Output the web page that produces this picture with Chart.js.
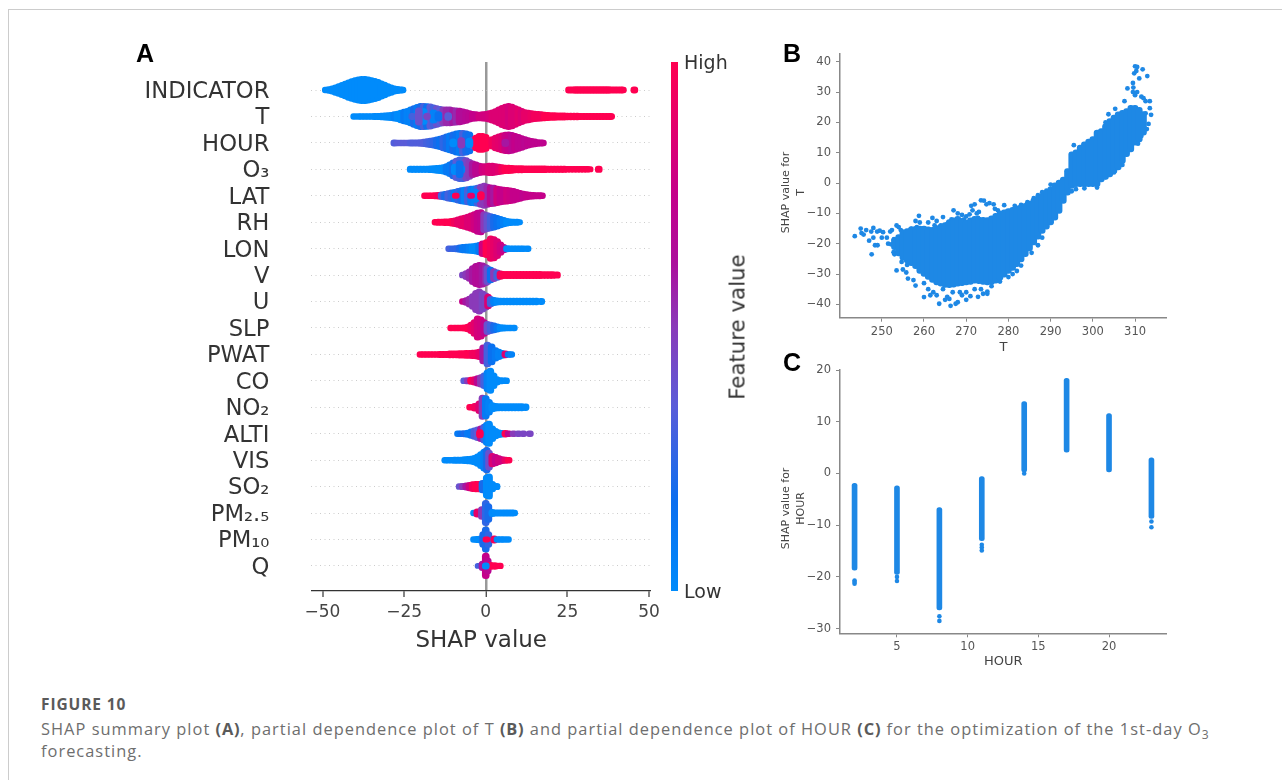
<!DOCTYPE html>
<html>
<head>
<meta charset="utf-8">
<title>SHAP summary</title>
<script src="https://cdn.jsdelivr.net/npm/chart.js@4"></script>
<style>
  html, body { margin: 0; padding: 0; background: #fff; }
  body { width: 1282px; height: 780px; position: relative; overflow: hidden; font-family: "DejaVu Sans", sans-serif; }
  #frame { position: absolute; left: 8px; top: 9px; width: 1300px; height: 800px; border: 1px solid #ccc; box-sizing: border-box; }
  canvas { position: absolute; }
  .letter { position: absolute; font: bold 25px "Liberation Sans", sans-serif; color: #000; line-height: 25px; }
  #featureLabel { position: absolute; left: 737px; top: 327px; font-size: 21.3px; color: #333; transform: translate(-50%, -50%) rotate(-90deg); white-space: nowrap; }
  #caption { position: absolute; left: 41px; top: 693px; width: 1200px; font-family: "Open Sans", sans-serif; color: #6e6e6e; font-size: 16.4px; letter-spacing: 1.02px; line-height: 22px; }
  #caption .fig { font-weight: 700; font-size: 15.5px; letter-spacing: .9px; color: #5a5a5a; margin-bottom: 3px; }
  #caption b { font-weight: 700; color: #5a5a5a; letter-spacing: .8px; }
  #caption sub { font-size: 12px; line-height: 0; }
</style>
</head>
<body>
<div id="frame"></div>
<canvas id="summaryChart" style="left:130px;top:50px" width="536" height="605"></canvas>
<canvas id="colorbarChart" style="left:665px;top:45px" width="73" height="565"></canvas>
<canvas id="tempChart" style="left:775px;top:45px" width="400" height="310"></canvas>
<canvas id="hourChart" style="left:775px;top:360px" width="400" height="309"></canvas>
<div class="letter" style="left:136px;top:41px">A</div>
<div class="letter" style="left:783px;top:41px">B</div>
<div class="letter" style="left:783px;top:350px">C</div>
<div id="featureLabel">Feature value</div>
<div id="caption">
  <div class="fig">FIGURE 10</div>
  SHAP summary plot <b>(A)</b>, partial dependence plot of T <b>(B)</b> and partial dependence plot of HOUR <b>(C)</b> for the optimization of the 1st-day O<sub>3</sub> forecasting.
</div>

<script>
const features = ["INDICATOR", "T", "HOUR", "O₃", "LAT", "RH", "LON", "V", "U", "SLP", "PWAT", "CO", "NO₂", "ALTI", "VIS", "SO₂", "PM₂.₅", "PM₁₀", "Q"];
const shapTicks = [-50, -25, 0, 25, 50];

// each swarm: [shap value, spread across the row, feature value 0..1]
const swarmIndicator = [[-49,.11,0],[-48,.13,0],[-47,.16,0],[-46,.2,0],[-45,.24,0],[-44,.29,0],[-43,.34,0],[-42,.39,0],[-41,.43,0],[-40,.47,0],[-39,.5,0],[-38,.52,0],[-37,.52,0],[-36,.5,0],[-35,.47,0],[-34,.44,0],[-33,.4,0],[-32,.35,0],[-31,.3,0],[-30,.24,0],[-29,.2,0],[-28,.16,0],[-27,.14,0],[-26,.12,0],[-25.5,.11,0],
  [25.5,.12,1],[26.5,.12,1],[27.5,.13,1],[28.5,.13,1],[29.5,.13,1],[30.5,.13,1],[31.5,.13,1],[32.5,.13,1],[33.5,.13,1],[34.5,.13,1],[35.5,.13,1],[36.5,.13,1],[37.5,.13,1],[38.5,.12,1],[39.5,.12,1],[40.5,.12,1],[41.5,.12,1],[42,.11,1],[45.5,.12,1]];
const swarmT = [[-40.3,.11,0],[-39,.11,0],[-38,.11,0],[-37,.11,0],[-36,.11,0],[-35,.11,0],[-34,.12,0],[-33,.12,0],[-32,.13,0],[-31,.14,0],[-30,.15,0],[-29,.16,0],[-28,.18,.05],[-27,.2,0],[-26,.24,0],[-25,.28,.1],[-24,.31,.05],[-23,.36,.05],[-22,.41,.2],[-21,.46,.1],[-20,.5,.2],[-19,.5,.3],[-18,.49,.15],[-17,.48,.35],[-16,.44,.3],[-15,.41,.4],[-14,.38,.35],[-13,.36,.5],[-12,.36,.55],[-11,.36,.55],[-10,.34,.6],[-9,.33,.55],[-8,.32,.65],[-7,.29,.65],[-6,.26,.68],[-5,.22,.7],[-4,.19,.75],[-3,.18,.75],[-2,.17,.8],[-1,.18,.8],[0,.19,.8],[1,.22,.82],[2,.25,.85],[3,.3,.85],[4,.36,.85],[5,.42,.85],[6,.47,.85],[7,.5,.82],[8,.47,.85],[9,.41,.85],[10,.36,.88],[11,.31,.85],[12,.26,.9],[13,.24,.9],[14,.22,.92],[15,.2,.95],[16,.19,.95],[17,.18,.95],[18,.17,1],[19,.16,1],[20,.15,1],[21,.15,1],[22,.14,1],[23,.14,1],[24,.14,1],[25,.13,1],[26,.13,1],[27,.13,1],[28,.13,1],[29,.12,1],[30,.12,1],[31,.12,1],[32,.12,1],[33,.12,1],[34,.12,1],[35,.12,1],[36,.12,1],[37,.12,1],[38,.12,1],[38.4,.11,1],
  [-21,.2,.05],[-19,.3,0],[-22.5,.12,.3],[-17.5,.15,.35],[-16,.25,.05],[-20.5,.33,.4],[-14.5,.18,.15],[-18,.12,.45],[-11.5,.15,.35]];
const swarmHour = [[-28,.12,.33],[-27,.11,.35],[-26,.11,.35],[-25,.11,.35],[-24,.11,.35],[-23,.12,.33],[-22,.12,.33],[-21,.12,.33],[-20,.13,.33],[-19,.14,.33],[-18,.16,.3],[-17,.18,.28],[-16,.2,.25],[-15,.23,.2],[-14,.26,.15],[-13,.3,.25],[-12,.34,.2],[-11,.38,.1],[-10,.42,.2],[-9,.46,.15],[-8,.48,.1],[-7,.48,.3],[-6,.46,.2],[-5,.42,.15],
  [-4,.22,.35],[-3,.3,1],[-2,.36,1],[-1,.36,1],[0,.32,1],[1,.2,1],[2,.24,.95],[3,.3,.9],[4,.34,.88],[5,.38,.85],[6,.41,.78],[7,.42,.75],[8,.4,.7],[9,.36,.75],[10,.32,.72],[11,.28,.72],[12,.24,.7],[13,.2,.72],[14,.17,.72],[15,.15,.72],[16,.13,.72],[17,.12,.72],[17.5,.11,.72],
  [-7.5,.2,.5],[-10,.15,0],[-5,.18,.0],[6,.14,.6]];
const swarmO3 = [[-23,.12,0],[-22,.12,0],[-21,.12,0],[-20,.12,0],[-19,.12,0],[-18,.12,0],[-17,.13,0],[-16,.14,0],[-15,.15,0],[-14,.16,0],[-13,.18,0],[-12,.22,.1],[-11,.28,.1],[-10,.36,.2],[-9,.43,.35],[-8,.47,.3],[-7,.47,.3],[-6,.44,.45],[-5,.38,.5],[-4,.32,.6],[-3,.28,.7],[-2,.24,.7],[-1,.22,.8],[0,.22,.82],[1,.24,.85],[2,.24,.85],[3,.22,.85],[4,.2,.88],[5,.18,.95],[6,.16,1],[7,.16,1],[8,.15,1],[9,.14,1],[10,.14,1],[11,.14,1],[12,.13,1],[13,.13,1],[14,.13,1],[15,.13,1],[16,.13,1],[17,.13,1],[18,.13,1],[19,.12,1],[20,.12,1],[21,.12,1],[22,.12,1],[23,.12,1],[24,.12,1],[25,.11,1],[26,.11,1],[27,.11,1],[28,.11,1],[29,.11,1],[30,.11,1],[31,.11,1],[31.8,.1,1],[34.6,.12,1],
  [-9.5,.2,0],[-7.5,.15,.05],[-8,.32,.15]];
const swarmLat = [[-18.6,.11,1],[-17.5,.11,1],[-16.5,.11,1],[-15.5,.12,1],[-14.5,.13,.95],[-13.5,.15,.3],[-12.5,.17,.2],[-11.5,.2,.3],[-10.5,.22,.25],[-9.5,.24,.1],[-8.5,.28,.25],[-7.5,.31,.2],[-6.5,.33,.05],[-5.5,.35,.3],[-4.5,.37,.1],[-3.5,.38,.05],[-2.5,.4,.3],[-1.5,.44,.5],[-.5,.48,.5],[.5,.44,.55],[1.5,.41,.7],[2.5,.4,.6],[3.5,.37,.8],[4.5,.35,.75],[5.5,.33,.75],[6.5,.32,.8],[7.5,.3,.78],[8.5,.28,.75],[9.5,.24,.75],[10.5,.21,.75],[11.5,.18,.72],[12.5,.16,.75],[13.5,.14,.75],[14.5,.13,.75],[15.5,.12,.75],[16.5,.12,.75],[17.2,.11,.75],
  [-3,.12,1],[-9.2,.1,1],[-3.2,.25,.05],[-1.5,.16,1],[-4.5,.1,.9]];
const swarmRh = [[-15.4,.11,1],[-14.5,.12,1],[-13.5,.12,1],[-12.5,.13,1],[-11.5,.13,1],[-10.5,.15,1],[-9.5,.17,.95],[-8.5,.2,.9],[-7.5,.24,.9],[-6.5,.27,.9],[-5.5,.31,.85],[-4.5,.35,.85],[-3.5,.4,.8],[-2.5,.46,.75],[-1.5,.48,.72],[-.5,.4,.5],[.5,.36,.4],[1.5,.33,.3],[2.5,.3,.2],[3.5,.26,.15],[4.5,.22,.1],[5.5,.18,.05],[6.5,.15,0],[7.5,.13,0],[8.5,.12,0],[9.5,.12,0],[10.2,.1,0]];
const swarmLon = [[-11.2,.11,.3],[-10,.11,.25],[-9,.12,.25],[-8,.14,.2],[-7,.16,.1],[-6,.17,.1],[-5,.18,.05],[-4,.19,0],[-3,.21,0],[-2,.24,.1],[-1,.3,.8],[.2,.34,1],[1.5,.48,.95],[2.5,.46,.9],[3.5,.38,.85],[4.5,.26,.8],[5.5,.16,.7],[6.5,.12,0],[7.5,.11,0],[8.5,.11,0],[9.5,.11,0],[10.5,.11,0],[11.5,.11,0],[12.8,.11,0]];
const swarmV = [[-7,.11,.45],[-6,.17,.5],[-5,.24,.55],[-4,.36,.6],[-3,.44,.65],[-2,.48,.65],[-1,.46,.6],[0,.4,.55],[.5,.36,.4],[1.5,.3,.15],[2.5,.25,.5],[3.5,.2,.3],[4.5,.16,.95],[5.5,.14,1],[6.5,.14,1],[7.5,.14,1],[8.5,.14,1],[9.5,.14,1],[10.5,.14,1],[11.5,.14,1],[12.5,.14,1],[13.5,.14,1],[14.5,.14,1],[15.5,.14,1],[16.5,.14,1],[17.5,.13,1],[18.5,.13,1],[19.5,.13,1],[20.5,.13,1],[21.8,.12,1]];
const swarmU = [[-7,.11,.75],[-6,.15,.6],[-5,.21,.55],[-4,.3,.5],[-3,.42,.5],[-2,.48,.5],[-1,.4,.45],[0,.33,.45],[.7,.28,.85],[1.5,.2,.3],[2.5,.16,.05],[3.5,.14,0],[4.5,.13,0],[5.5,.13,0],[6.5,.13,0],[7.5,.13,0],[8.5,.13,0],[9.5,.13,0],[10.5,.13,0],[11.5,.13,0],[12.5,.13,0],[13.5,.13,0],[14.5,.13,0],[15.5,.13,0],[17,.12,0]];
const swarmSlp = [[-10.6,.11,1],[-9.5,.11,1],[-8.5,.11,1],[-7.5,.11,1],[-6.5,.12,1],[-5.5,.15,1],[-4.5,.22,.95],[-3.5,.32,.88],[-2.5,.46,.82],[-1.5,.42,.8],[-.5,.32,.72],[.5,.25,.4],[1.5,.22,.3],[2.5,.19,.2],[3.5,.16,.1],[4.5,.13,0],[5.5,.12,0],[6.5,.11,0],[7.5,.11,0],[8.6,.11,0]];
const swarmPwat = [[-20,.11,1],[-19,.11,1],[-18,.11,1],[-17,.11,1],[-16,.11,1],[-15,.11,1],[-14,.12,1],[-13,.12,1],[-12,.12,1],[-11,.13,1],[-10,.13,1],[-9,.13,1],[-8,.14,1],[-7,.14,1],[-6,.15,1],[-5,.15,1],[-4,.16,.95],[-3,.17,.95],[-2,.2,.9],[-.8,.36,.6],[.5,.47,.3],[1.8,.4,.15],[3,.26,.1],[4,.2,.05],[5,.15,.05],[6,.13,.85],[7,.11,.1],[7.8,.11,.05]];
const swarmCo = [[-6.6,.11,.35],[-5.5,.12,.5],[-4.5,.14,1],[-3.5,.16,.9],[-2.5,.2,.7],[-1.5,.24,.5],[-.5,.3,.3],[.5,.42,.05],[1.4,.48,0],[2.4,.3,0],[3.4,.16,0],[4.5,.12,0],[5.5,.11,0],[6.2,.11,0]];
const swarmNo2 = [[-4.8,.11,1],[-3.4,.15,.95],[-2,.24,.85],[-1,.46,.5],[0,.44,.1],[1,.3,.05],[2,.18,0],[3,.15,0],[4,.14,0],[5,.14,0],[6,.14,0],[7,.14,0],[8,.14,0],[9,.14,0],[10,.14,0],[11,.14,0],[12.2,.13,0]];
const swarmAlti = [[-8.5,.11,.1],[-7.5,.11,.15],[-6.5,.12,.2],[-5.5,.14,.1],[-4.5,.18,.1],[-3.5,.22,.3],[-2.5,.26,.35],[-1.5,.3,.6],[-.5,.36,.3],[.3,.44,.05],[1,.48,0],[2,.3,.0],[3,.2,0],[4,.15,0],[5,.13,0],[6,.13,1],[7,.11,.7],[8.5,.11,.5],[10,.11,.45],[11.5,.11,.45],[13.5,.11,.45],[-1.8,.16,1]];
const swarmVis = [[-12.4,.11,0],[-11.5,.11,0],[-10.5,.11,0],[-9.5,.12,0],[-8.5,.12,0],[-7.5,.12,0],[-6.5,.13,0],[-5.5,.14,0],[-4.5,.15,0],[-3.5,.18,0],[-2.5,.24,0],[-1.5,.32,0],[-.5,.42,.05],[.3,.48,.2],[1,.38,.4],[2,.26,.85],[3,.22,.75],[4,.17,.8],[5,.13,.8],[6,.12,.9],[7,.11,1]];
const swarmSo2 = [[-8,.11,.4],[-7,.12,.5],[-6,.14,.6],[-5,.16,.8],[-4,.19,.95],[-3,.2,1],[-2.2,.2,1],[-1,.24,.2],[.3,.44,0],[1,.48,0],[2,.2,0],[3.3,.12,0]];
const swarmPm25 = [[-3.6,.11,0],[-2.6,.16,.9],[-1.2,.24,.5],[0,.48,.25],[.8,.36,.2],[2,.14,0],[3,.12,0],[4,.12,0],[5,.12,0],[6,.12,0],[7,.12,0],[8,.12,0],[8.7,.11,0]];
const swarmPm10 = [[-3.6,.11,0],[-2.6,.12,0],[-1.6,.14,0],[-.8,.3,.2],[0,.48,.2],[.8,.3,.25],[2.6,.14,.95],[3.6,.11,0],[4.6,.11,0],[5.6,.11,0],[6.8,.11,0],[.2,.1,1]];
const swarmQ = [[-2.2,.1,.3],[-1,.18,.6],[0,.48,.75],[.6,.3,.7],[1.5,.13,1],[2.5,.12,1],[3,.12,1],[4.3,.11,1],[0,.12,0]];
const swarmRows = [swarmIndicator, swarmT, swarmHour, swarmO3, swarmLat, swarmRh, swarmLon, swarmV, swarmU, swarmSlp, swarmPwat, swarmCo, swarmNo2, swarmAlti, swarmVis, swarmSo2, swarmPm25, swarmPm10, swarmQ];

// colour bar of feature value
const featureStops = [0, .17, .35, .5, .62, .75, 1];
const featureColors = ["#008bfb", "#0b6eef", "#5a5cd8", "#8a3ab9", "#ab0f9c", "#c4008a", "#ff0051"];

// panel B, T against its SHAP value: dense band, then stray points
const bandT = [253,254,255,256,257,258,259,260,261,262,263,264,265,266,267,268,269,270,271,272,273,274,275,276,277,278,279,280,281,282,283,284,285,286,287,288,289,290,291,292,293,294,295,296,297,298,299,300,301,302,303,304,305,306,307,308,309,310,311,312];
const bandLow = [-22,-24,-25.4,-26.3,-27.2,-28.2,-29.8,-30.8,-31.8,-32.8,-33.6,-34,-34.4,-34.5,-34.3,-34,-33.8,-33.6,-33.4,-33,-33.2,-33.4,-33.6,-33.4,-33,-32,-31,-29.8,-28.8,-27.6,-26,-24.3,-22.4,-20.4,-18.5,-16.6,-15.2,-13.8,-12.2,-10,-6.7,-4,-1.8,-1.2,-1.2,-1.2,-1.2,-1.2,-1.2,.4,1.2,2,3.2,4.3,6.5,8.7,10.3,12.5,13.6,15.8];
const bandHigh = [-18,-17,-15.5,-15,-14.4,-14.3,-14.2,-14.2,-14.4,-14.6,-14,-13.5,-13,-12,-11.5,-11,-11.6,-12.2,-11.5,-11,-11.2,-11.3,-11.4,-10.8,-10,-9.2,-8.8,-8.4,-8,-7.5,-7.1,-6.7,-5.9,-5,-4.2,-3.4,-2.3,-1.2,.1,1,2,4.8,10.3,11,12.5,13.6,14.5,15.3,17.5,18,19.5,21.3,22.4,23.5,24,24.6,25.6,25.6,25,23.6];
const strayT = [243.6,245,245.2,245.7,246.3,247,247.5,247.6,248,248,248.4,248.9,249,249.5,250,250.3,251.2,251.5,252,252.2,252.4,252.8,252.9,253,253.5,253.7,254,254.5,254.7,255,253.5,255,255.8,256.2,255,256,
  256,257,258,258.8,258.3,259,259.8,261,262,262.5,263,264,264.5,265.5,266.5,267,267.5,268,269,269.5,270,270.8,271.2,271.5,272,272.5,272.8,273,273.5,274.2,274.8,275.5,276.5,276.8,277,277.5,279,279.5,281.5,283,284.5,286,287,288,289,290,
  257.5,258,260,260,261,261.5,262.2,263,263.6,264.5,265,265.5,266,266.3,266.8,267.5,268,268.5,269,270,270,271,272,272.8,273.5,274,275,275,276,278,280,281,283,282,285.5,287,288,
  310,310.5,310.3,309.8,311,311.8,312.9,309.5,309.6,309.5,308.2,310.5,310,311.5,312,312.5,313.5,313.5,313.8,312.5,313.2,312.8,312,311.5,310.5,310.7,307.5,305.3,303.7,303,295.5,307,305,304,303,301,298,296,295];
const strayShap = [-17.5,-15,-16.5,-17,-15.5,-19,-16,-23.5,-14.8,-18,-20.5,-16,-20.5,-15.7,-18,-16.2,-18,-20,-16,-20.2,-15.5,-22.8,-18.5,-23.5,-14,-22.5,-14.5,-15.5,-26,-16,-28.8,-28.5,-29.5,-31.5,-24,-27,
  -17,-15,-12.5,-10.8,-14.5,-13,-15,-13,-11.5,-14,-12.5,-14,-11.2,-13.5,-12,-9,-13,-10,-10.5,-12,-11,-10.3,-7.5,-9,-7,-10,-11.5,-9.5,-5.7,-5.8,-7,-6.6,-7,-8.5,-11,-9,-7.3,-9.5,-7.5,-7.2,-6.3,-5,-4,-3,-2.5,-.5,
  -32,-33.8,-33,-37.6,-35,-37,-36,-37,-39.8,-35,-38.5,-37.5,-38.2,-40.5,-36,-39.8,-39.3,-36,-37,-36,-38.5,-37.3,-35,-37.5,-35,-36.5,-36.5,-35.8,-34,-32.5,-31,-30,-27.2,-29,-23,-20.5,-18,
  38.5,38.3,37,36.2,34.5,37.5,35.3,33,31.5,30,31.2,30,29,28.5,28,27,27,24.7,22.5,23,19.5,17.8,17,15.5,14,13,27,24.5,22.7,20,12.5,6,3.5,3,2,-1.5,-1.7,-2,-2.7];
const tTicks = [250, 260, 270, 280, 290, 300, 310];
const tShapTicks = [-40, -30, -20, -10, 0, 10, 20, 30, 40];

// panel C, HOUR against its SHAP value
const hours = [2, 5, 8, 11, 14, 17, 20, 23];
const hourLow = [-18.7, -19.5, -26.4, -13, .3, 4.1, .3, -8.7];
const hourHigh = [-1.9, -2.4, -6.6, -.6, 13.9, 18.4, 11.6, 3];
const hourStrayX = [2, 2, 2, 5, 5, 8, 8, 11, 11, 11, 14, 23, 23];
const hourStrayY = [-20.7, -21, -21.3, -20, -20.8, -27.6, -28.5, -13.8, -14.3, -14.9, 0, -9.3, -10.4];
const hourTicks = [5, 10, 15, 20];
const hourShapTicks = [-30, -20, -10, 0, 10, 20];

const pointBlue = "#1e88e5";

function hexToRgb(hex) {
    return [1, 3, 5].map(i => parseInt(hex.slice(i, i + 2), 16));
}

// feature value -> colour
function featureColor(v) {
    let i = 0;
    while (i < featureStops.length - 2 && v > featureStops[i + 1]) i++;
    const t = (v - featureStops[i]) / (featureStops[i + 1] - featureStops[i]);
    const a = hexToRgb(featureColors[i]);
    const b = hexToRgb(featureColors[i + 1]);
    return `rgb(${a.map((c, k) => Math.round(c + (b[k] - c) * t)).join(",")})`;
}

function fixedTicks(values) {
    return scale => { scale.ticks = values.map(value => ({value})); };
}

// tick padding would otherwise eat into the chart area
function fixWidth(w) {
    return scale => { scale.width = w; scale.paddingTop = 0; scale.paddingBottom = 0; };
}
function fixHeight(h) {
    return scale => { scale.height = h; scale.paddingLeft = 0; scale.paddingRight = 0; };
}

const swarmData = [];
const swarmColors = [];
swarmRows.forEach((row, r) => {
    row.forEach(([shap, spread, value]) => {
        swarmData.push({x: shap, y: [r - spread, r + spread]});
        swarmColors.push(featureColor(value));
    });
});

new Chart(document.getElementById("summaryChart").getContext("2d"), {
    type: "bar",
    data: {
        datasets: [{
            data: swarmData,
            backgroundColor: swarmColors,
            barThickness: 7,
            borderRadius: 3.5,
            borderSkipped: false
        }]
    },
    options: {
        responsive: false,
        animation: false,
        layout: {padding: {top: 12, right: 15, bottom: 0, left: 0}},
        plugins: {legend: {display: false}, tooltip: {enabled: false}},
        scales: {
            x: {
                type: "linear",
                offset: false,
                min: -53.4,
                max: 50.6,
                afterBuildTicks: fixedTicks(shapTicks),
                afterFit: fixHeight(64),
                border: {color: "#333", width: 1.3},
                grid: {
                    offset: false,
                    color: ctx => ctx.tick && ctx.tick.value === 0 ? "#999" : "transparent",
                    lineWidth: ctx => ctx.tick && ctx.tick.value === 0 ? 2.5 : 0,
                    tickColor: "#333",
                    tickLength: 6,
                    tickWidth: 1.2
                },
                ticks: {color: "#444", font: {family: "DejaVu Sans", size: 17}, padding: 5, maxRotation: 0,
                    callback: v => String(v).replace("-", "−")},
                title: {display: true, text: "SHAP value", color: "#333", font: {family: "DejaVu Sans", size: 23}, padding: 0}
            },
            y: {
                type: "linear",
                reverse: true,
                min: -1.06,
                max: 18.95,
                afterBuildTicks: fixedTicks(features.map((f, i) => i)),
                afterFit: fixWidth(181.4),
                border: {display: false, dash: [1, 3.5]},
                grid: {color: "#ccc", drawTicks: false, lineWidth: 1},
                ticks: {color: "#333", font: {family: "DejaVu Sans", size: 22.7}, padding: 42, labelOffset: 2, autoSkip: false,
                    callback: v => features[v]}
            }
        }
    }
});

new Chart(document.getElementById("colorbarChart").getContext("2d"), {
    type: "bar",
    data: {
        labels: ["Feature value"],
        datasets: [{
            data: [[0, 1]],
            barPercentage: 1,
            categoryPercentage: 1,
            backgroundColor: ctx => {
                const area = ctx.chart.chartArea;
                if (!area) return featureColors[0];
                const grad = ctx.chart.ctx.createLinearGradient(0, area.bottom, 0, area.top);
                featureStops.forEach((s, i) => grad.addColorStop(s, featureColors[i]));
                return grad;
            }
        }]
    },
    options: {
        responsive: false,
        animation: false,
        layout: {padding: {top: 17, left: 6, bottom: 19, right: 0}},
        plugins: {legend: {display: false}, tooltip: {enabled: false}},
        scales: {
            x: {display: false},
            y: {
                position: "right",
                min: 0,
                max: 1,
                afterBuildTicks: fixedTicks([-0.003, 0.997]),
                afterFit: fixWidth(60),
                border: {display: false},
                grid: {display: false, drawTicks: false},
                ticks: {color: "#333", font: {family: "DejaVu Sans", size: 19}, padding: 6,
                    callback: v => v > 0.5 ? "High" : "Low"}
            }
        }
    }
});

// shared look of the two dependence plots on the right
function dependenceScales(xMin, xMax, yMin, yMax, xTicks, yTicks, xName, xHeight) {
    const tickFont = {family: "DejaVu Sans", size: 11.5};
    return {
        x: {
            type: "linear",
            offset: false,
            min: xMin,
            max: xMax,
            afterBuildTicks: fixedTicks(xTicks),
            afterFit: fixHeight(xHeight),
            border: {color: "#888", width: 1.5},
            grid: {offset: false, drawOnChartArea: false, color: "#888", tickLength: 4},
            ticks: {color: "#555", font: tickFont, padding: 3, maxRotation: 0},
            title: {display: true, text: xName, color: "#444", font: {family: "DejaVu Sans", size: 13}, padding: 0}
        },
        y: {
            type: "linear",
            min: yMin,
            max: yMax,
            afterBuildTicks: fixedTicks(yTicks),
            afterFit: fixWidth(65),
            border: {color: "#888", width: 1.5},
            grid: {drawOnChartArea: false, color: "#888", tickLength: 4},
            ticks: {color: "#555", font: tickFont, padding: 5, callback: v => String(v).replace("-", "−")},
            // trailing no-break spaces push the title down the axis, it sits low in the original
            title: {display: true, text: ["SHAP value for\u00a0\u00a0\u00a0\u00a0", xName + "\u00a0\u00a0\u00a0\u00a0"], color: "#444",
                font: {family: "DejaVu Sans", size: 11, lineHeight: 1.4}, padding: {top: 3, bottom: 0}}
        }
    };
}

new Chart(document.getElementById("tempChart").getContext("2d"), {
    type: "bar",
    data: {
        datasets: [{
            data: bandT.map((t, i) => ({x: t, y: [bandLow[i], bandHigh[i]]})),
            backgroundColor: pointBlue,
            barThickness: 6,
            borderRadius: 3,
            borderSkipped: false
        }, {
            type: "scatter",
            data: strayT.map((t, i) => ({x: t, y: strayShap[i]})),
            backgroundColor: pointBlue,
            borderWidth: 0,
            pointRadius: 2.4
        }]
    },
    options: {
        responsive: false,
        animation: false,
        layout: {padding: {top: 8.3, right: 8.3, bottom: 0, left: 0}},
        plugins: {legend: {display: false}, tooltip: {enabled: false}},
        scales: dependenceScales(240.1, 317.5, -44.4, 42.8, tTicks, tShapTicks, "T", 37.3)
    }
});

new Chart(document.getElementById("hourChart").getContext("2d"), {
    type: "bar",
    data: {
        datasets: [{
            data: hours.map((h, i) => ({x: h, y: [hourLow[i], hourHigh[i]]})),
            backgroundColor: pointBlue,
            barThickness: 5,
            borderRadius: 2.5,
            borderSkipped: false
        }, {
            type: "scatter",
            data: hourStrayX.map((h, i) => ({x: h, y: hourStrayY[i]})),
            backgroundColor: pointBlue,
            borderWidth: 0,
            pointRadius: 2.3
        }]
    },
    options: {
        responsive: false,
        animation: false,
        layout: {padding: {top: 9.5, right: 8.3, bottom: 0, left: 0}},
        plugins: {legend: {display: false}, tooltip: {enabled: false}},
        scales: dependenceScales(0.97, 24.08, -30.9, 20.1, hourTicks, hourShapTicks, "HOUR", 35.7)
    }
});
</script>
</body>
</html>
